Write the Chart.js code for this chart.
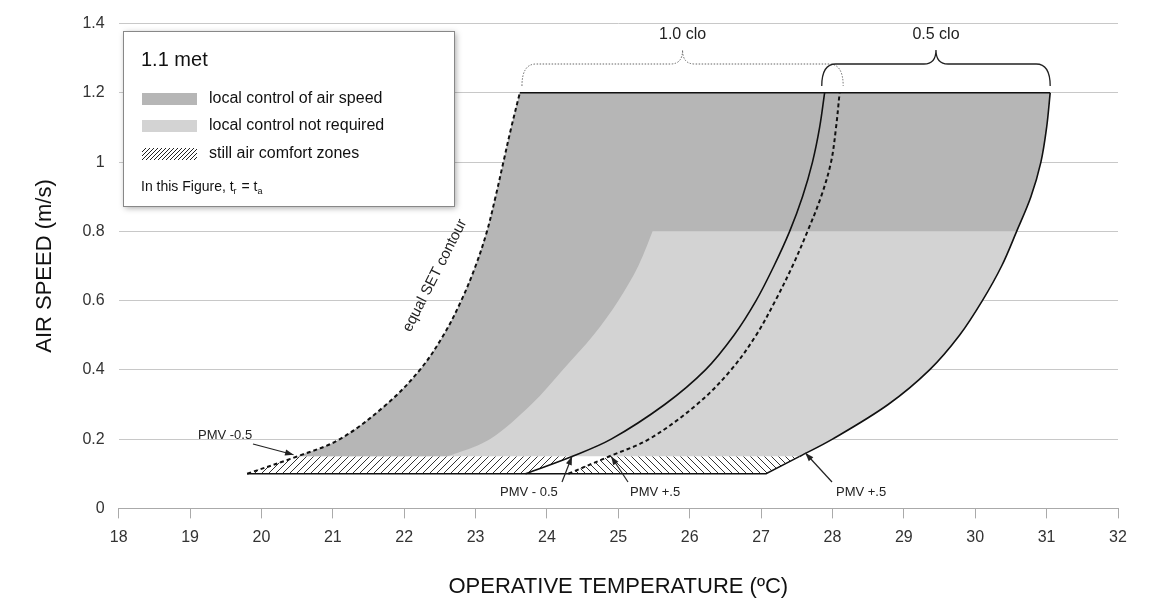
<!DOCTYPE html>
<html><head><meta charset="utf-8">
<script src="https://cdn.jsdelivr.net/npm/chart.js@4"></script>
<style>body{margin:0;background:#fff}#wrap{width:1150px;height:607px}</style>
</head><body><div id="wrap"><canvas id="c"></canvas></div>
<script>
// curves: [temperature, air speed]
var setContour10 = [[19.8,0.1],[20.5,0.15],[21.1,0.2],[21.75,0.3],[22.22,0.4],[22.55,0.5],[22.8,0.6],[23.0,0.7],[23.16,0.8],[23.28,0.9],[23.39,1.0],[23.5,1.1],[23.62,1.2]];
var pmvPlus10   = [[23.7,0.1],[24.35,0.15],[24.9,0.2],[25.65,0.3],[26.22,0.4],[26.62,0.5],[26.93,0.6],[27.18,0.7],[27.4,0.8],[27.58,0.9],[27.72,1.0],[27.82,1.1],[27.89,1.2]];
var pmvMinus05  = [[24.3,0.1],[24.87,0.15],[25.43,0.2],[26.1,0.3],[26.58,0.4],[26.93,0.5],[27.2,0.6],[27.44,0.7],[27.65,0.8],[27.84,0.9],[27.98,1.0],[28.05,1.1],[28.1,1.2]];
var pmvPlus05   = [[27.07,0.1],[27.54,0.15],[28.0,0.2],[28.78,0.3],[29.36,0.4],[29.78,0.5],[30.1,0.6],[30.37,0.7],[30.58,0.8],[30.78,0.9],[30.92,1.0],[31.0,1.1],[31.05,1.2]];
var controlEdge = [[22.6,0.15],[23.2,0.2],[23.78,0.3],[24.22,0.4],[24.65,0.5],[25.0,0.6],[25.28,0.7],[25.48,0.8]];
var xTicks = [18,19,20,21,22,23,24,25,26,27,28,29,30,31,32];
var yTicks = [0,0.2,0.4,0.6,0.8,1,1.2,1.4];

function pts(a){ return a.map(function(p){ return {x:p[0], y:p[1]}; }); }
function above(a, y0){ return a.filter(function(p){ return p[1] >= y0; }); }

function smoothPath(ctx, P, move){
  // catmull-rom through pixel points
  if (move) ctx.moveTo(P[0][0],P[0][1]); else ctx.lineTo(P[0][0],P[0][1]);
  for (var i=0;i<P.length-1;i++){
    var p0=P[i-1]||P[i], p1=P[i], p2=P[i+1], p3=P[i+2]||P[i+1];
    ctx.bezierCurveTo(p1[0]+(p2[0]-p0[0])/6, p1[1]+(p2[1]-p0[1])/6,
                      p2[0]-(p3[0]-p1[0])/6, p2[1]-(p3[1]-p1[1])/6, p2[0], p2[1]);
  }
}

function hatch(dir){
  var c = document.createElement('canvas'); c.width=7; c.height=7;
  var g = c.getContext('2d'); g.strokeStyle='#333'; g.lineWidth=1;
  g.beginPath();
  if (dir>0){ g.moveTo(0,7); g.lineTo(7,0); g.moveTo(-4,4); g.lineTo(4,-4); g.moveTo(3,11); g.lineTo(11,3); }
  else { g.moveTo(0,0); g.lineTo(7,7); g.moveTo(-4,3); g.lineTo(4,11); g.moveTo(3,-4); g.lineTo(11,4); }
  g.stroke(); return c;
}

var zones = {
  id:'zones',
  beforeDatasetsDraw: function(chart){
    var ctx = chart.ctx, xs = chart.scales.x, ys = chart.scales.y;
    function px(a){ return a.map(function(p){ return [xs.getPixelForValue(p[0]), ys.getPixelForValue(p[1])]; }); }
    function pt(x,y){ return [xs.getPixelForValue(x), ys.getPixelForValue(y)]; }
    ctx.save();
    // light region
    ctx.beginPath();
    smoothPath(ctx, px(above(setContour10,0.15)), true);
    smoothPath(ctx, px(above(pmvPlus05,0.15)).reverse(), false);
    ctx.closePath(); ctx.fillStyle='#d3d3d3'; ctx.fill();
    // dark region
    ctx.beginPath();
    smoothPath(ctx, px(above(setContour10,0.15)), true);
    smoothPath(ctx, px(above(pmvPlus05,0.8)).reverse(), false);
    smoothPath(ctx, px(controlEdge).reverse(), false);
    ctx.closePath(); ctx.fillStyle='#b6b6b6'; ctx.fill();
    // still air zones
    ctx.beginPath();
    var a=pt(19.8,0.1), b=pt(27.07,0.1), c=pt(27.54,0.15), d=pt(20.5,0.15);
    ctx.moveTo(a[0],a[1]); ctx.lineTo(b[0],b[1]); ctx.lineTo(c[0],c[1]); ctx.lineTo(d[0],d[1]); ctx.closePath();
    ctx.fillStyle='#fff'; ctx.fill();
    var z1=[pt(19.8,0.1),pt(23.7,0.1),pt(24.35,0.15),pt(20.5,0.15)];
    var z2=[pt(24.3,0.1),pt(27.07,0.1),pt(27.54,0.15),pt(24.87,0.15)];
    [[z1,1],[z2,-1]].forEach(function(z){
      ctx.beginPath(); ctx.moveTo(z[0][0][0],z[0][0][1]);
      z[0].slice(1).forEach(function(p){ ctx.lineTo(p[0],p[1]); });
      ctx.closePath(); ctx.fillStyle=ctx.createPattern(hatch(z[1]),'repeat'); ctx.fill();
    });
    ctx.strokeStyle='#111'; ctx.lineWidth=1.5;
    ctx.beginPath(); ctx.moveTo(a[0],a[1]); ctx.lineTo(b[0],b[1]); ctx.lineTo(c[0],c[1]); ctx.stroke();
    ctx.beginPath(); var t1=pt(23.62,1.2), t2=pt(31.05,1.2); ctx.moveTo(t1[0],t1[1]); ctx.lineTo(t2[0],t2[1]); ctx.stroke();
    ctx.restore();
  },
  afterDatasetsDraw: function(chart){
    var ctx = chart.ctx, xs = chart.scales.x, ys = chart.scales.y;
    function pt(x,y){ return [xs.getPixelForValue(x), ys.getPixelForValue(y)]; }
    ctx.save();
    ctx.fillStyle='#222'; ctx.strokeStyle='#222'; ctx.lineWidth=1.2;
    ctx.font='13px "Liberation Sans", Arial';
    function arrow(tx,ty,target){
      var p=pt(target[0],target[1]);
      ctx.beginPath(); ctx.moveTo(tx,ty); ctx.lineTo(p[0],p[1]); ctx.stroke();
      var ang=Math.atan2(p[1]-ty,p[0]-tx);
      ctx.beginPath(); ctx.moveTo(p[0],p[1]);
      ctx.lineTo(p[0]-9*Math.cos(ang-0.35),p[1]-9*Math.sin(ang-0.35));
      ctx.lineTo(p[0]-9*Math.cos(ang+0.35),p[1]-9*Math.sin(ang+0.35)); ctx.closePath(); ctx.fill();
    }
    ctx.textAlign='left'; ctx.textBaseline='middle';
    ctx.fillText('PMV -0.5', 198, 435); arrow(253,444,[20.45,0.155]);
    ctx.fillText('PMV - 0.5', 500, 492); arrow(562,482,[24.35,0.15]);
    ctx.fillText('PMV +.5', 630, 492); arrow(628,482,[24.9,0.15]);
    ctx.fillText('PMV +.5', 836, 492); arrow(832,482,[27.62,0.16]);
    // SET contour label
    var s=pt(22.55,0.66);
    ctx.save(); ctx.translate(s[0],s[1]); ctx.rotate(-1.1); ctx.textAlign='center'; ctx.textBaseline='bottom';
    ctx.font='15px "Liberation Sans", Arial'; ctx.fillText('equal SET contour',0,-2); ctx.restore();
    // clo braces
    function brace(x0,x1,dashed){
      var l=xs.getPixelForValue(x0), r=xs.getPixelForValue(x1), m=(l+r)/2, y=64, top=86;
      ctx.save(); ctx.strokeStyle=dashed?'#666':'#222'; ctx.lineWidth=dashed?1:1.3;
      if (dashed) ctx.setLineDash([1.5,1.5]);
      ctx.beginPath(); ctx.moveTo(l,top);
      ctx.quadraticCurveTo(l,y,l+14,y); ctx.lineTo(m-12,y);
      ctx.quadraticCurveTo(m,y,m,y-14); ctx.quadraticCurveTo(m,y,m+12,y);
      ctx.lineTo(r-14,y); ctx.quadraticCurveTo(r,y,r,top); ctx.stroke(); ctx.restore();
      ctx.fillStyle='#222'; ctx.font='16px "Liberation Sans", Arial'; ctx.textAlign='center'; ctx.fillText(dashed?'1.0 clo':'0.5 clo', m, 35);
    }
    brace(23.65,28.15,true); brace(27.85,31.05,false);
    // legend box
    ctx.save(); ctx.shadowColor='rgba(0,0,0,0.35)'; ctx.shadowBlur=6; ctx.shadowOffsetX=2; ctx.shadowOffsetY=2;
    ctx.fillStyle='#fff'; ctx.fillRect(123,31,331,175); ctx.restore();
    ctx.strokeStyle='#888'; ctx.lineWidth=1; ctx.strokeRect(123.5,31.5,331,175);
    ctx.fillStyle='#111'; ctx.textAlign='left'; ctx.font='20px "Liberation Sans", Arial';
    ctx.fillText('1.1 met',141,60);
    ctx.fillStyle='#b6b6b6'; ctx.fillRect(142,93,55,12);
    ctx.fillStyle='#d3d3d3'; ctx.fillRect(142,120,55,12);
    ctx.save(); ctx.beginPath(); ctx.rect(142,148,55,12); ctx.clip();
    ctx.strokeStyle='#222'; ctx.beginPath();
    for (var i=-12;i<60;i+=4){ ctx.moveTo(142+i,160); ctx.lineTo(154+i,148); } ctx.stroke(); ctx.restore();
    ctx.fillStyle='#111'; ctx.font='16px "Liberation Sans", Arial';
    ctx.fillText('local control of air speed',209,99);
    ctx.fillText('local control not required',209,126);
    ctx.fillText('still air comfort zones',209,154);
    ctx.font='14px "Liberation Sans", Arial';
    ctx.fillText('In this Figure, t',141,187);
    var w=ctx.measureText('In this Figure, t').width;
    ctx.font='9px "Liberation Sans", Arial'; ctx.fillText('r',141+w,192);
    ctx.font='14px "Liberation Sans", Arial'; ctx.fillText(' = t',141+w+4,187);
    var w2=ctx.measureText(' = t').width;
    ctx.font='9px "Liberation Sans", Arial'; ctx.fillText('a',141+w+4+w2,192);
    ctx.restore();
  }
};

function curve(data, dash){
  return { data: pts(data), borderColor:'#111', borderWidth: dash?2:1.6, borderDash: dash?[4,3]:[],
    pointRadius:0, showLine:true, tension:0.35, fill:false };
}

new Chart(document.getElementById('c'), {
  type:'scatter',
  data:{ datasets:[
    curve(setContour10,true), curve(pmvPlus10,false), curve(pmvMinus05,true),
    curve(above(pmvPlus05,0.15),false)
  ]},
  options:{
    responsive:true, maintainAspectRatio:false, animation:false,
    layout:{ padding:{ top:4, right:32, left:28, bottom:3 } },
    plugins:{ legend:{display:false}, tooltip:{enabled:false} },
    scales:{
      x:{ type:'linear', min:18, max:32,
        afterBuildTicks:function(s){ s.ticks = xTicks.map(function(v){ return {value:v}; }); },
        grid:{ display:true, drawOnChartArea:false, drawTicks:true, tickLength:10, color:'#aaa' },
        border:{ color:'#aaa' },
        ticks:{ color:'#333', font:{ size:16, family:'"Liberation Sans", Arial' }, padding:10 },
        title:{ display:true, text:'OPERATIVE TEMPERATURE (ºC)', color:'#111', font:{ size:22, family:'"Liberation Sans", Arial' }, padding:{top:16} } },
      y:{ type:'linear', min:0, max:1.4,
        afterBuildTicks:function(s){ s.ticks = yTicks.map(function(v){ return {value:v}; }); },
        grid:{ color:'#c8c8c8', drawTicks:false }, border:{ display:false },
        ticks:{ color:'#333', font:{ size:16, family:'"Liberation Sans", Arial' }, padding:14, callback:function(v){ return String(v); } },
        title:{ display:true, text:'AIR SPEED (m/s)', color:'#111', font:{ size:22, family:'"Liberation Sans", Arial' }, padding:{bottom:10} } }
    }
  },
  plugins:[zones]
});
</script></body></html>
